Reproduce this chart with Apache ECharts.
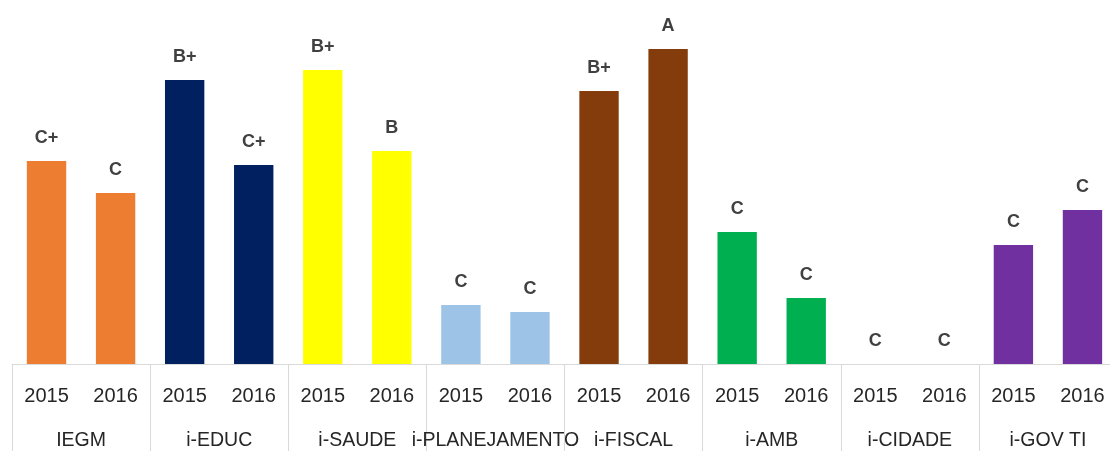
<!DOCTYPE html>
<html>
<head>
<meta charset="utf-8">
<script src="https://cdn.jsdelivr.net/npm/echarts@6/dist/echarts.min.js"></script>
<style>
html, body { margin: 0; padding: 0; background: #fff; }
#main { width: 1110px; height: 451px; }
</style>
</head>
<body>
<div id="main"></div>
<script>
// 分组与年份
var groups = ['IEGM', 'i-EDUC', 'i-SAUDE', 'i-PLANEJAMENTO', 'i-FISCAL', 'i-AMB', 'i-CIDADE', 'i-GOV TI'];
var years = ['2015', '2016'];
var groupColors = ['#ED7D31', '#002060', '#FFFF00', '#9DC3E6', '#843C0C', '#00B050', '#7F7F7F', '#7030A0'];
// 每组 2015 / 2016 的数值
var values2015 = [203, 284, 294, 59, 273, 132, 0, 119];
var values2016 = [171, 199, 213, 52, 315, 66, 0, 154];
// 评级
var grades2015 = ['C+', 'B+', 'B+', 'C', 'B+', 'C', 'C', 'C'];
var grades2016 = ['C', 'C+', 'B', 'C', 'A', 'C', 'C', 'C'];

var myChart = echarts.init(document.getElementById('main'));

var xdata = [];
var barData = [];
var labelArr = [];
for (var i = 0; i < groups.length; i++) {
	xdata.push(years[0]);
	xdata.push(years[1]);
	barData.push({ value: values2015[i], itemStyle: { color: groupColors[i] } });
	barData.push({ value: values2016[i], itemStyle: { color: groupColors[i] } });
	labelArr.push(grades2015[i]);
	labelArr.push(grades2016[i]);
}

var option = {
	animation: false,
	grid: {
		left: 12,
		right: -7,
		top: 0,
		bottom: 87,
		outerBoundsMode: 'none'
	},
	xAxis: [{
		type: 'category',
		data: xdata,
		axisLine: { lineStyle: { color: '#D9D9D9', width: 1 } },
		axisTick: { show: false },
		axisLabel: {
			interval: 0,
			margin: 22,
			color: '#262626',
			fontSize: 20,
			fontFamily: 'Liberation Sans'
		}
	}, {
		type: 'category',
		position: 'bottom',
		data: groups,
		axisLine: { show: false },
		axisTick: {
			show: true,
			interval: 0,
			length: 90,
			lineStyle: { color: '#D9D9D9', width: 1 }
		},
		axisLabel: {
			interval: 0,
			margin: 67,
			color: '#262626',
			fontSize: 19.5,
			fontFamily: 'Liberation Sans'
		}
	}],
	yAxis: {
		type: 'value',
		min: 0,
		max: 364,
		show: false,
		splitLine: { show: false }
	},
	series: [{
		type: 'bar',
		xAxisIndex: 0,
		barWidth: '57%',
		data: barData,
		label: {
			show: true,
			position: 'top',
			distance: 14,
			color: '#404040',
			fontSize: 18,
			fontWeight: 'bold',
			fontFamily: 'Liberation Sans',
			formatter: function (p) {
				return labelArr[p.dataIndex];
			}
		}
	}]
};
myChart.setOption(option);
</script>
</body>
</html>
